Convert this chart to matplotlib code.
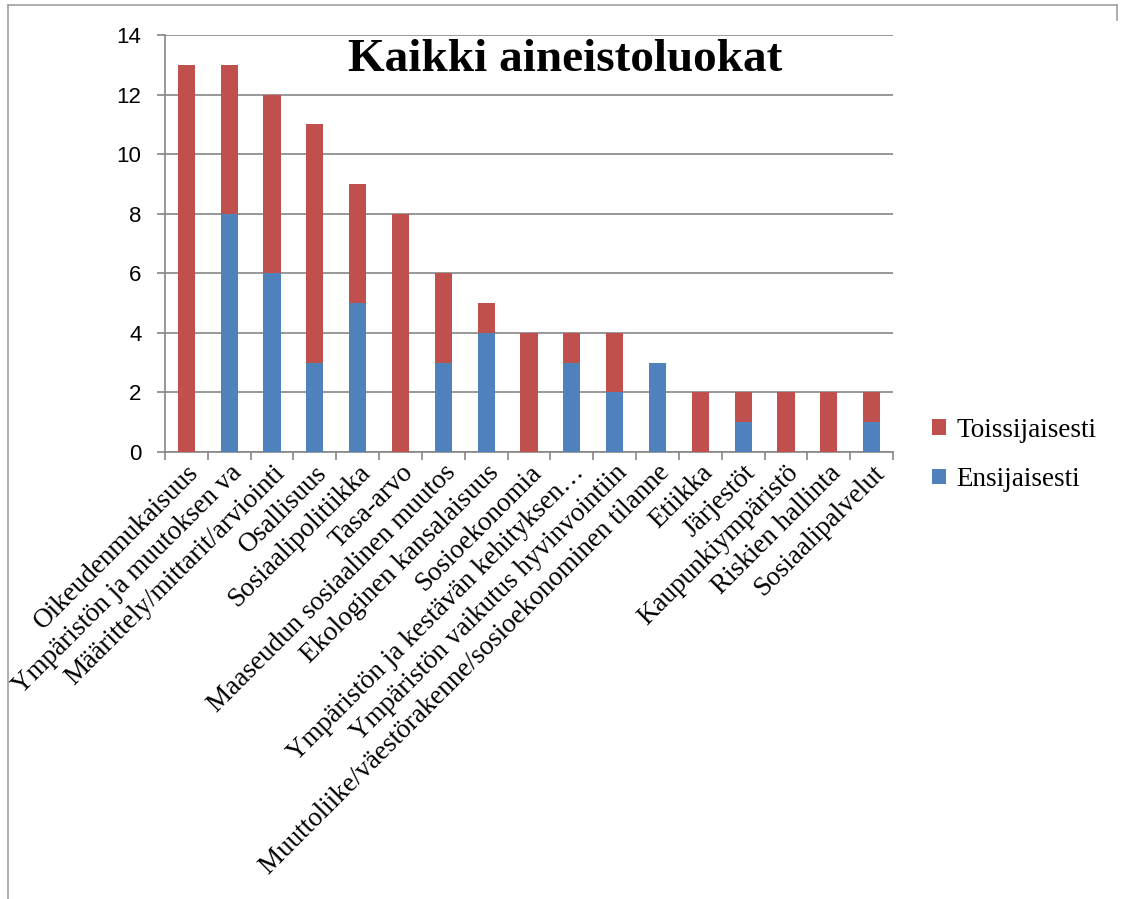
import matplotlib
matplotlib.use("Agg")
import matplotlib.pyplot as plt
import numpy as np
from matplotlib.lines import Line2D

categories = [
    "Oikeudenmukaisuus",
    "Ympäristön ja muutoksen va",
    "Määrittely/mittarit/arviointi",
    "Osallisuus",
    "Sosiaalipolitiikka",
    "Tasa-arvo",
    "Maaseudun sosiaalinen muutos",
    "Ekologinen kansalaisuus",
    "Sosioekonomia",
    "Ympäristön ja kestävän kehityksen…",
    "Ympäristön vaikutus hyvinvointiin",
    "Muuttoliike/väestörakenne/sosioekonominen tilanne",
    "Etiikka",
    "Järjestöt",
    "Kaupunkiympäristö",
    "Riskien hallinta",
    "Sosiaalipalvelut",
]
ensijaisesti = [0, 8, 6, 3, 5, 0, 3, 4, 0, 3, 2, 3, 0, 1, 0, 0, 1]
toissijaisesti = [13, 5, 6, 8, 4, 8, 3, 1, 4, 1, 2, 0, 2, 1, 2, 2, 1]
yticks = [0, 2, 4, 6, 8, 10, 12, 14]
title = "Kaikki aineistoluokat"

BLUE = "#4F81BD"
RED = "#C0504D"
GRID = "#868686"

fig = plt.figure(figsize=(11.23, 8.99), dpi=100)
W, H = 1123, 899
ax = fig.add_axes([165 / W, 1 - 452 / H, (893 - 165) / W, (452 - 35) / H])

x = np.arange(len(categories))
ax.bar(x, ensijaisesti, width=0.4, color=BLUE, label="Ensijaisesti", zorder=3)
ax.bar(x, toissijaisesti, width=0.4, bottom=ensijaisesti, color=RED,
       label="Toissijaisesti", zorder=3)

ax.set_xlim(-0.5, len(categories) - 0.5)
ax.set_ylim(0, 14)
ax.set_yticks(yticks)
ax.yaxis.grid(True, color=GRID, linewidth=1.2, zorder=0)
ax.set_axisbelow(True)
for s in ["top", "right"]:
    ax.spines[s].set_visible(False)
for s in ["left", "bottom"]:
    ax.spines[s].set_color(GRID)
    ax.spines[s].set_linewidth(1.2)

ax.set_xticks(x)
ax.set_xticklabels(categories, rotation=45, ha="right", rotation_mode="anchor",
                   fontfamily="Liberation Serif", fontsize=19.5)
ax.set_xticks(np.arange(-0.5, len(categories)), minor=True)
ax.tick_params(axis="x", which="major", length=0, pad=6)
ax.tick_params(axis="x", which="minor", length=6, color=GRID, width=1.2)
ax.tick_params(axis="y", length=6, color=GRID, width=1.2, labelsize=16, pad=11)
for lab in ax.get_yticklabels():
    lab.set_fontfamily("Liberation Sans")

ax.text(0.55, 0.99, title, transform=ax.transAxes, ha="center", va="top",
        fontfamily="Liberation Serif", fontweight="bold", fontsize=34)

handles, labels = ax.get_legend_handles_labels()
leg = fig.legend(handles[::-1], labels[::-1], loc="center left",
                 bbox_to_anchor=(908 / W, 1 - 455 / H), frameon=False,
                 prop={"family": "Liberation Serif", "size": 19.5},
                 handlelength=0.5, handleheight=0.5, handletextpad=0.4,
                 labelspacing=0.9)

# figure border
fig.add_artist(Line2D([8 / W, 8 / W], [0, 1 - 5 / H], color="#A0A0A0", lw=1.2))
fig.add_artist(Line2D([8 / W, 1117 / W], [1 - 5 / H, 1 - 5 / H], color="#A0A0A0", lw=1.2))
fig.add_artist(Line2D([1117 / W, 1117 / W], [1 - 5 / H, 1 - 20 / H], color="#A0A0A0", lw=1.2))

fig.savefig("out.png", dpi=100)
